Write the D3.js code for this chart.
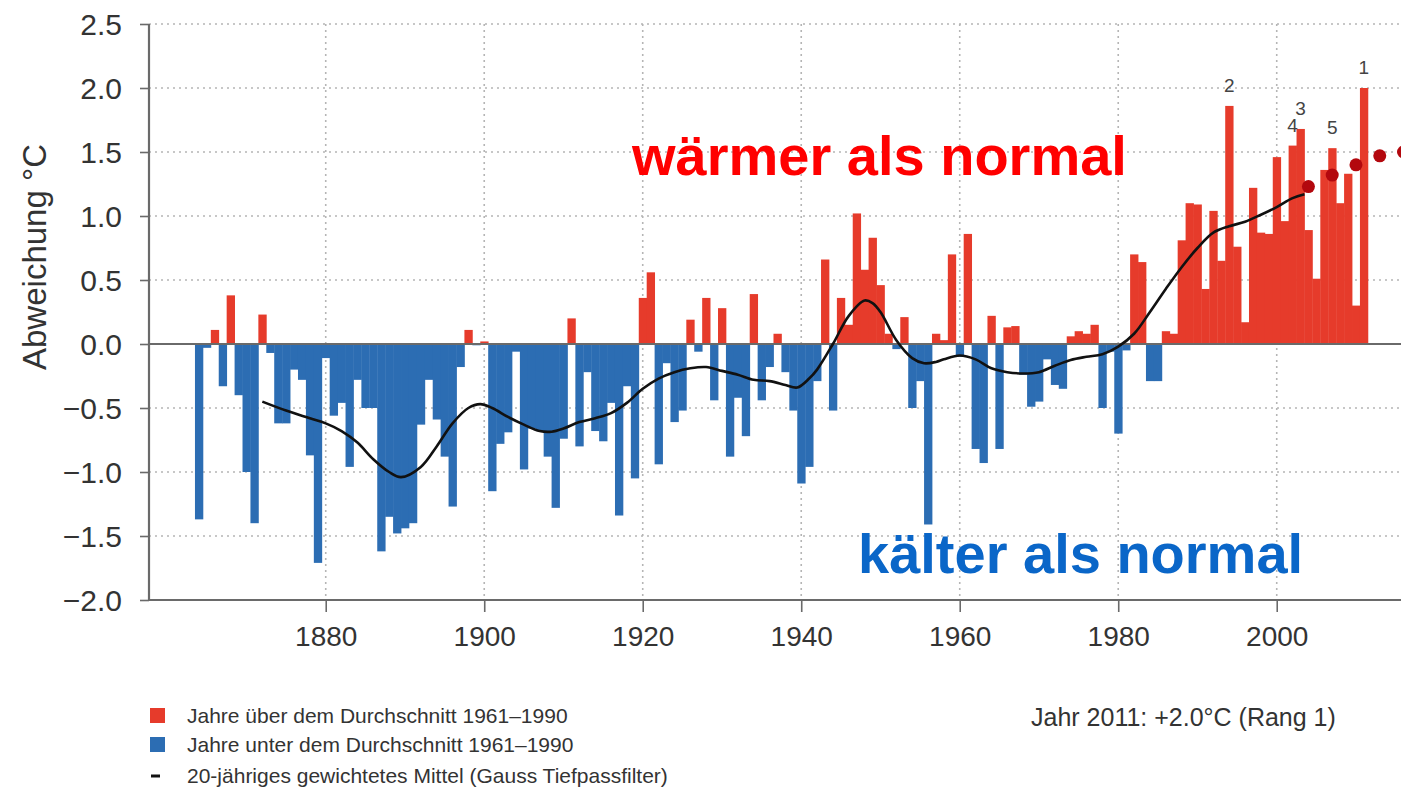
<!DOCTYPE html>
<html>
<head>
<meta charset="utf-8">
<script src="https://cdn.jsdelivr.net/npm/d3@7"></script>
<style>
  html, body { margin: 0; padding: 0; background: #ffffff; }
  svg { display: block; font-family: "Liberation Sans", Arial, Helvetica, sans-serif; }
</style>
</head>
<body>
<svg id="chart" width="1401" height="790"></svg>
<script>
// Jahresmittel-Temperatur, Abweichung von der Norm 1961–1990 (°C), 1864–2011
const firstYear = 1864;
const anomalies = [
  -1.37, -0.03, 0.11, -0.33, 0.38, -0.40, -1.00, -1.40, 0.23, -0.07,   // 1864–1873
  -0.62, -0.62, -0.20, -0.28, -0.87, -1.71, -0.11, -0.56, -0.46, -0.96, // 1874–1883
  -0.28, -0.50, -0.50, -1.62, -1.35, -1.48, -1.44, -1.40, -0.63, -0.28, // 1884–1893
  -0.59, -0.88, -1.27, -0.18, 0.11, -0.01, 0.02, -1.15, -0.78, -0.69,   // 1894–1903
  -0.06, -0.98, -0.66, -0.68, -0.88, -1.28, -0.74, 0.20, -0.80, -0.22,  // 1904–1913
  -0.68, -0.76, -0.46, -1.34, -0.33, -1.05, 0.36, 0.56, -0.94, -0.15,   // 1914–1923
  -0.61, -0.52, 0.19, -0.06, 0.36, -0.44, 0.28, -0.88, -0.42, -0.72,    // 1924–1933
  0.39, -0.44, -0.18, 0.08, -0.22, -0.52, -1.09, -0.96, -0.29, 0.66,    // 1934–1943
  -0.52, 0.36, 0.15, 1.02, 0.58, 0.83, 0.46, 0.08, -0.04, 0.21,         // 1944–1953
  -0.50, -0.29, -1.41, 0.08, 0.03, 0.70, -0.10, 0.86, -0.82, -0.93,     // 1954–1963
  0.22, -0.82, 0.13, 0.14, -0.24, -0.49, -0.45, -0.12, -0.32, -0.35,    // 1964–1973
  0.06, 0.10, 0.08, 0.15, -0.50, -0.06, -0.70, -0.05, 0.70, 0.64,       // 1974–1983
  -0.29, -0.29, 0.10, 0.08, 0.81, 1.10, 1.09, 0.43, 1.04, 0.65,         // 1984–1993
  1.86, 0.76, 0.17, 1.22, 0.87, 0.86, 1.46, 0.96, 1.55, 1.68,           // 1994–2003
  0.89, 0.51, 1.36, 1.53, 1.10, 1.33, 0.30, 2.00                        // 2004–2011
];
const years = anomalies.map((_, i) => firstYear + i);

// 20-jähriges gewichtetes Mittel (Gauss-Tiefpass)
const smoothYears = [1872, 1875, 1878, 1880, 1882, 1884, 1886, 1888, 1889.5, 1892, 1894, 1896,
  1898, 1899.5, 1901, 1903, 1905, 1907, 1908.5, 1910, 1912, 1914, 1916, 1918, 1920, 1922,
  1924, 1926, 1928, 1930, 1932, 1934, 1936, 1938, 1939.5, 1941, 1942, 1944, 1946, 1948,
  1949, 1950, 1952, 1954, 1955.5, 1957, 1958, 1960, 1962, 1964, 1966, 1968, 1970, 1972,
  1974, 1976, 1978, 1980, 1982, 1984, 1986, 1988, 1990, 1992, 1994, 1996, 1998, 2000,
  2002, 2003.5];
const smoothValues = [-0.45, -0.52, -0.58, -0.62, -0.68, -0.77, -0.90, -1.00, -1.04, -0.96,
  -0.80, -0.62, -0.50, -0.47, -0.50, -0.57, -0.63, -0.68, -0.685, -0.66, -0.61, -0.58,
  -0.54, -0.46, -0.35, -0.27, -0.22, -0.19, -0.18, -0.21, -0.24, -0.28, -0.29, -0.32,
  -0.34, -0.27, -0.20, 0.00, 0.22, 0.34, 0.32, 0.25, 0.03, -0.11, -0.15, -0.14, -0.12,
  -0.09, -0.12, -0.19, -0.22, -0.23, -0.22, -0.17, -0.125, -0.10, -0.08, -0.02, 0.08,
  0.25, 0.43, 0.60, 0.75, 0.87, 0.92, 0.955, 1.01, 1.07, 1.14, 1.17];

// Fortsetzung des Trends (gepunktet)
const trendYears = [2004, 2007, 2010, 2013, 2016];
const trendValues = [1.23, 1.32, 1.40, 1.47, 1.50];

const yTicks = [2.5, 2.0, 1.5, 1.0, 0.5, 0.0, -0.5, -1.0, -1.5, -2.0];
const xTicks = [1880, 1900, 1920, 1940, 1960, 1980, 2000];
const rankCount = 5;

const legendLabels = [
  "Jahre über dem Durchschnitt 1961–1990",
  "Jahre unter dem Durchschnitt 1961–1990",
  "20-jähriges gewichtetes Mittel (Gauss Tiefpassfilter)"
];
const yTitle = "Abweichung °C";
const warmText = "wärmer als normal";
const coldText = "kälter als normal";

const colWarm = "#e63b2b";
const colCold = "#2c6db3";
const colAxis = "#6a6a6a";
const colText = "#333333";

const svg = d3.select("#chart");
const W = 1401, H = 790;
const plotLeft = 149, plotTop = 24, plotBottom = 600;

const x = d3.scaleLinear().domain([1857.7, 2016]).range([plotLeft, plotLeft + (2016 - 1857.7) * 7.925]);
const y = d3.scaleLinear().domain([-2, 2.5]).range([plotBottom, plotTop]);

svg.append("rect").attr("width", W).attr("height", H).attr("fill", "#fff");

// Gitternetz (gepunktet)
const grid = svg.append("g").attr("stroke", "#b5b5b5").attr("stroke-width", 1.6)
  .attr("stroke-dasharray", "2,4");
grid.selectAll("line.h").data(yTicks.filter(v => v !== 0 && v !== -2)).join("line")
  .attr("class", "h")
  .attr("x1", plotLeft).attr("x2", W)
  .attr("y1", d => y(d)).attr("y2", d => y(d));
grid.selectAll("line.v").data(xTicks).join("line")
  .attr("class", "v")
  .attr("x1", d => x(d)).attr("x2", d => x(d))
  .attr("y1", plotTop).attr("y2", plotBottom);

// Balken
const series = years.map((yr, i) => ({ year: yr, value: anomalies[i] }));
svg.append("g").selectAll("rect").data(series).join("rect")
  .attr("x", d => x(d.year - 0.5))
  .attr("width", d => x(d.year + 0.5) - x(d.year - 0.5) + 0.4)
  .attr("y", d => d.value >= 0 ? y(d.value) : y(0))
  .attr("height", d => Math.abs(y(d.value) - y(0)))
  .attr("fill", d => d.value >= 0 ? colWarm : colCold);

// Nulllinie
svg.append("line")
  .attr("x1", plotLeft).attr("x2", W)
  .attr("y1", y(0)).attr("y2", y(0))
  .attr("stroke", colAxis).attr("stroke-width", 2.2);

// Y-Achse
const yAxis = d3.axisLeft(y).tickValues(yTicks).tickSize(9).tickPadding(18)
  .tickFormat(d => d3.format(".1f")(d).replace("-", "\u2212"));
const gy = svg.append("g").attr("transform", `translate(${plotLeft},0)`).call(yAxis);
gy.select(".domain").attr("stroke", colAxis).attr("stroke-width", 2.2)
  .attr("d", `M0,${plotTop}V${plotBottom}`);
gy.selectAll(".tick line").attr("stroke", colAxis).attr("stroke-width", 1.6);
gy.selectAll(".tick text").attr("fill", colText).style("font-size", "30px")
  .attr("dy", "0.36em");

// X-Achse
const xAxis = d3.axisBottom(x).tickValues(xTicks).tickSize(12).tickPadding(14)
  .tickFormat(d3.format("d"));
const gx = svg.append("g").attr("transform", `translate(0,${plotBottom})`).call(xAxis);
gx.select(".domain").attr("stroke", colAxis).attr("stroke-width", 2.2)
  .attr("d", `M${plotLeft},0H${W}`);
gx.selectAll(".tick line").attr("stroke", colAxis).attr("stroke-width", 1.6);
gx.selectAll(".tick text").attr("fill", colText).style("font-size", "28px");

// Achsentitel
svg.append("text")
  .attr("transform", `translate(46,257) rotate(-90)`)
  .attr("text-anchor", "middle")
  .attr("fill", colText).style("font-size", "33px")
  .text(yTitle);

// Geglättete Kurve
const smooth = smoothYears.map((yr, i) => [yr, smoothValues[i]]);
svg.append("path").datum(smooth)
  .attr("fill", "none").attr("stroke", "#111").attr("stroke-width", 2.6)
  .attr("d", d3.line().x(d => x(d[0])).y(d => y(d[1])).curve(d3.curveCatmullRom.alpha(0.5)));

// Trendpunkte
svg.append("g").selectAll("circle").data(trendYears.map((yr, i) => [yr, trendValues[i]])).join("circle")
  .attr("cx", d => x(d[0])).attr("cy", d => y(d[1])).attr("r", 6.5)
  .attr("fill", "#b3080e");

// Rangfolge der wärmsten Jahre
const ranked = series.slice().sort((a, b) => b.value - a.value).slice(0, rankCount);
svg.append("g").selectAll("text").data(ranked).join("text")
  .attr("x", d => x(d.year))
  .attr("y", d => y(d.value) - 14)
  .attr("text-anchor", "middle")
  .attr("fill", "#444").style("font-size", "19px")
  .text((d, i) => i + 1);

// Beschriftungen im Diagramm
svg.append("text").attr("x", 632).attr("y", 175)
  .attr("fill", "#ff0000").style("font-size", "56px").style("font-weight", "bold")
  .text(warmText);
svg.append("text").attr("x", 858).attr("y", 573)
  .attr("fill", "#0a66c8").style("font-size", "56px").style("font-weight", "bold")
  .text(coldText);

// Legende
const legend = svg.append("g").attr("transform", "translate(150,0)");
const legendY = [716, 745, 776];
legend.append("rect").attr("x", 0).attr("y", legendY[0] - 8).attr("width", 15).attr("height", 15).attr("fill", colWarm);
legend.append("rect").attr("x", 0).attr("y", legendY[1] - 8).attr("width", 15).attr("height", 15).attr("fill", colCold);
legend.append("line").attr("x1", 1).attr("x2", 10).attr("y1", legendY[2]).attr("y2", legendY[2])
  .attr("stroke", "#111").attr("stroke-width", 3);
legend.selectAll("text").data(legendLabels).join("text")
  .attr("x", 37).attr("y", (d, i) => legendY[i] + 7)
  .attr("fill", colText).style("font-size", "21px")
  .text(d => d);

// Wert des letzten Jahres
const last = series[series.length - 1];
svg.append("text").attr("x", 1031).attr("y", 726)
  .attr("fill", colText).style("font-size", "25px")
  .text(`Jahr ${last.year}: +${d3.format(".1f")(last.value)}°C (Rang 1)`);
</script>
</body>
</html>
